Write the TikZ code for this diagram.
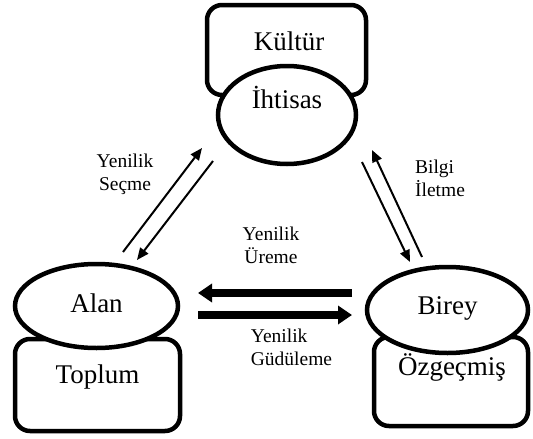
\documentclass[tikz,border=0pt]{standalone}
\usepackage{fontspec}
\setmainfont{Liberation Serif}
\usetikzlibrary{arrows.meta, shapes.geometric}

\begin{document}
\begin{tikzpicture}[x=1pt, y=-1pt,
    frame/.style={rectangle, rounded corners=15pt, draw, line width=4.5pt, inner sep=0pt},
    oval/.style={ellipse, draw, line width=4.5pt, fill=white, inner sep=0pt},
    title/.style={font=\fontsize{27}{30}\selectfont, anchor=base, inner sep=0pt},
    caption/.style={font=\fontsize{19.5}{23}\selectfont, anchor=base, inner sep=0pt},
    flow/.style={line width=2pt, -{Triangle[length=12pt, width=10pt]}},
    push/.style={line width=8pt, -{Triangle[length=14pt, width=18pt]}}
]
\useasboundingbox (0,0) rectangle (533,439);

% Boxes (drawn first, the ovals cover them)
\node[frame, minimum width=159pt, minimum height=90pt] (kultur) at (286.5,50) {};
\node[frame, minimum width=165pt, minimum height=92pt] (toplum) at (97.5,385) {};
\node[frame, minimum width=154pt, minimum height=89pt] (ozgecmis) at (451,381.5) {};

% Ovals
\node[oval, minimum width=138pt, minimum height=98pt] (ihtisas) at (287,115) {};
\node[oval, minimum width=163pt, minimum height=84pt] (alan) at (96.5,306) {};
\node[oval, minimum width=161pt, minimum height=86pt] (birey) at (447.5,310) {};

% Names
\node[title] (kultur-t) at (289,50) {Kültür};
\node[title] (ihtisas-t) at (287,108) {İhtisas};
\node[title] (alan-t) at (96.5,312) {Alan};
\node[title] (toplum-t) at (97.5,383) {Toplum};
\node[title] (birey-t) at (447.5,314) {Birey};
\node[title] (ozgecmis-t) at (452,375) {Özgeçmiş};

% Arrow ends
\coordinate (secA) at (123,252);
\coordinate (secB) at (202,148);
\coordinate (secC) at (213,161);
\coordinate (secD) at (137,260);
\coordinate (iltA) at (362,162);
\coordinate (iltB) at (410,262);
\coordinate (iltC) at (422,257);
\coordinate (iltD) at (372,150);
\coordinate (ureA) at (352,293);
\coordinate (ureB) at (198,293);
\coordinate (gudA) at (198,315);
\coordinate (gudB) at (352,315);

% Arrows
\draw[flow] (secA) -- (secB);
\draw[flow] (secC) -- (secD);
\draw[flow] (iltA) -- (iltB);
\draw[flow] (iltC) -- (iltD);
\draw[push] (ureA) -- (ureB);
\draw[push] (gudA) -- (gudB);

% Labels (base = last line)
\node[caption, align=center] (secme) at (125,190) {Yenilik\\Seçme};
\node[caption, align=left] (iletme) at (440,196) {Bilgi\\İletme};
\node[caption, align=center] (ureme) at (271,263) {Yenilik\\Üreme};
\node[caption, align=left] (gudu) at (291.5,365) {Yenilik\\Güdüleme};

\end{tikzpicture}
\end{document}
